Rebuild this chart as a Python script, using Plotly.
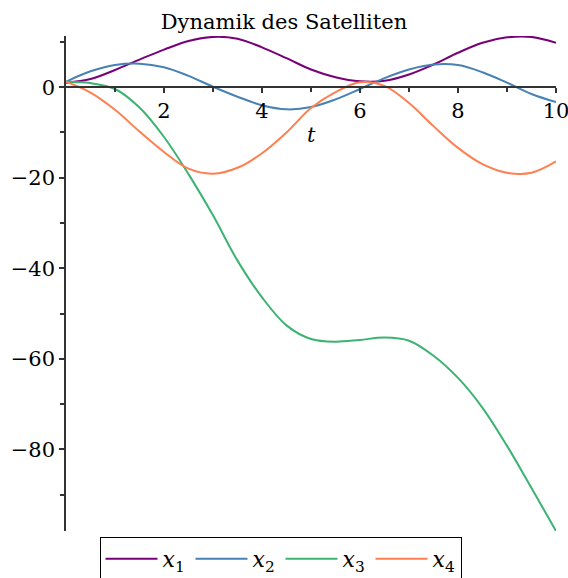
import plotly.graph_objects as go

# Zeitpunkte und Zustandsgrößen des Satelliten
t = [0, 0.5, 1, 1.5, 2, 2.5, 3, 3.5, 4, 4.5, 5, 5.5, 6, 6.5, 7, 7.5, 8, 8.5, 9, 9.5, 10]
x1 = [1.0, 1.8, 3.8, 6.1, 8.3, 10.2, 11.1, 10.7, 8.8, 6.4, 3.9, 2.2, 1.3, 1.4, 2.8, 5.0, 7.6, 9.8, 11.0, 11.1, 9.8]
x2 = [1.2, 3.5, 4.9, 5.2, 4.4, 2.5, 0.1, -2.1, -4.0, -4.9, -4.4, -2.7, -0.4, 2.0, 3.9, 5.0, 4.9, 3.3, 1.0, -1.5, -3.3]
x3 = [1.2, 0.9, -0.4, -4.5, -11.0, -19.2, -28.3, -38.3, -46.4, -52.6, -55.6, -56.2, -55.8, -55.3, -56.0, -59.3, -64.2, -70.8, -79.2, -88.5, -98.0]
x4 = [1.2, -1.2, -5.0, -9.8, -14.3, -18.0, -19.1, -17.8, -14.6, -10.0, -4.6, -1.1, 1.1, 0.3, -3.5, -8.6, -13.4, -17.0, -18.9, -18.9, -16.4]

series = [("1", x1, "#780078"), ("2", x2, "#4682B4"), ("3", x3, "#3CB371"), ("4", x4, "#FF7F50")]

FONT = "DejaVu Serif"
AXIS = "#333333"
y_lo, y_hi = -98.0, 11.3

fig = go.Figure()
for idx, vals, col in series:
    fig.add_trace(go.Scatter(
        x=t, y=vals, mode="lines",
        line=dict(color=col, width=2, shape="spline", smoothing=1.0),
        name=f"<i>x</i><sub>{idx}</sub>",
    ))

fig.add_annotation(x=5, y=-10.5, xref="x", yref="y", text="<i>t</i>",
                   showarrow=False, font=dict(family=FONT, size=21, color="black"))

fig.update_layout(
    width=568, height=578,
    margin=dict(l=66, r=12, t=36, b=47, autoexpand=False),
    paper_bgcolor="white", plot_bgcolor="white",
    font=dict(family=FONT, size=21, color="black"),
    title=dict(text="Dynamik des Satelliten", x=0.5, xref="container", xanchor="center",
               y=1 - 22 / 578, yref="container", yanchor="middle",
               font=dict(family=FONT, size=21, color="black")),
    xaxis=dict(range=[0, 10], anchor="free", position=(0 - y_lo) / (y_hi - y_lo),
               automargin=False, ticklabeloverflow="allow",
               showline=True, linecolor=AXIS, linewidth=1.5, showgrid=False, zeroline=False,
               tickmode="array", tickvals=[2, 4, 6, 8, 10], ticks="outside", ticklen=5,
               tickcolor=AXIS, tickwidth=1.5,
               minor=dict(tickmode="array", tickvals=[1, 3, 5, 7, 9], ticks="outside",
                          ticklen=4, tickcolor=AXIS, tickwidth=1.5),
               tickfont=dict(family=FONT, size=21)),
    yaxis=dict(range=[y_lo, y_hi], automargin=False, ticklabeloverflow="allow",
               showline=True, linecolor=AXIS, linewidth=1.5,
               showgrid=False, zeroline=False,
               tickmode="array", tickvals=[0, -20, -40, -60, -80], ticks="outside", ticklen=5,
               tickcolor=AXIS, tickwidth=1.5,
               minor=dict(tickmode="array", tickvals=[10, -10, -30, -50, -70, -90],
                          ticks="outside", ticklen=4, tickcolor=AXIS, tickwidth=1.5),
               tickfont=dict(family=FONT, size=21)),
    showlegend=True,
    legend=dict(orientation="h", x=(280.5 - 66) / 490, xanchor="center",
                y=-(537 - 531) / 495, yanchor="top",
                bordercolor="black", borderwidth=1, bgcolor="white",
                font=dict(family=FONT, size=22), itemwidth=52,
                entrywidth=23, entrywidthmode="pixels", tracegroupgap=0),
)

fig.write_html("out.html")
